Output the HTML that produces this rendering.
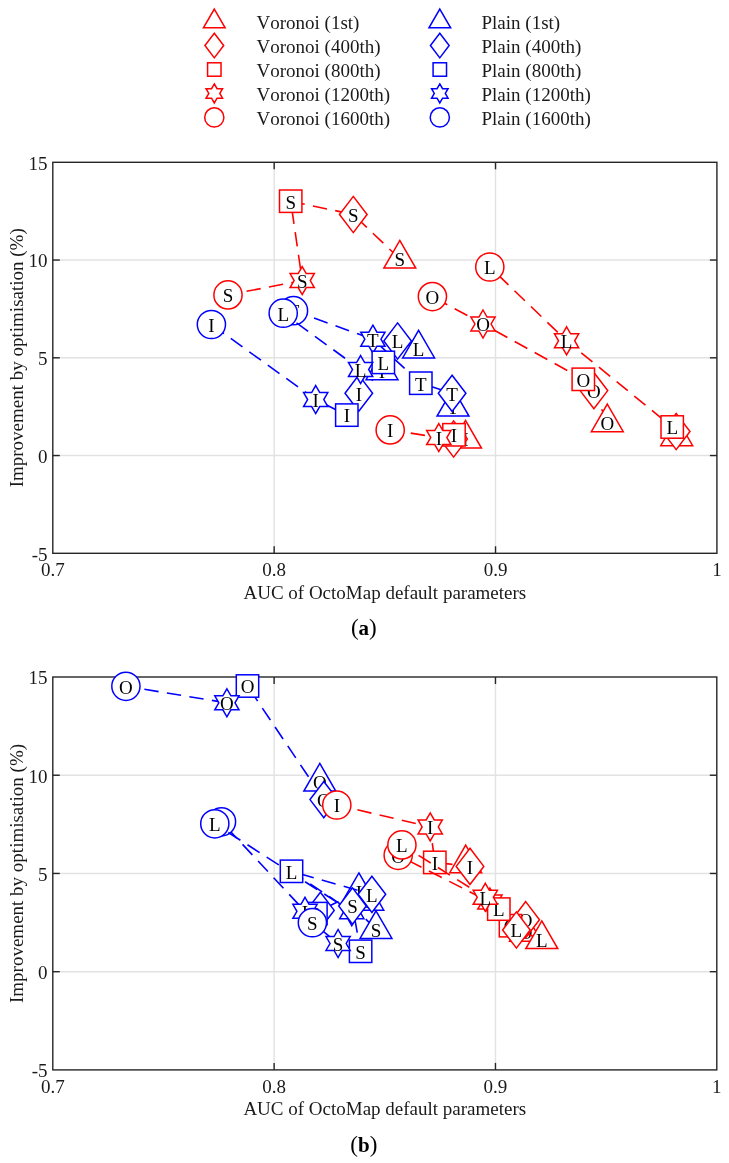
<!DOCTYPE html>
<html><head><meta charset="utf-8"><style>
html,body{margin:0;padding:0;background:#fff;}
text{font-kerning:none;}
svg{display:block;will-change:transform;}
.t{font-family:"Liberation Serif",serif;font-size:19px;fill:#000;}
.a{font-family:"Liberation Serif",serif;font-size:19px;fill:#1a1a1a;}
.c{font-family:"Liberation Serif",serif;font-size:23px;fill:#000;}
</style></head><body>
<svg width="729" height="1163" viewBox="0 0 729 1163">
<rect width="729" height="1163" fill="#fff"/>
<polygon points="214.30,9.08 225.15,27.86 203.45,27.86" fill="none" stroke="#ff0000" stroke-width="1.5" stroke-linejoin="miter" stroke-miterlimit="10"/>
<text x="256.5" y="28.70" class="a">Voronoi (1st)</text>
<polygon points="439.80,9.08 450.65,27.86 428.95,27.86" fill="none" stroke="#0000ff" stroke-width="1.5" stroke-linejoin="miter" stroke-miterlimit="10"/>
<text x="481.5" y="28.70" class="a">Plain (1st)</text>
<polygon points="214.30,33.24 223.68,45.55 214.30,57.86 204.92,45.55" fill="none" stroke="#ff0000" stroke-width="1.5" stroke-linejoin="miter" stroke-miterlimit="10"/>
<text x="256.5" y="52.65" class="a">Voronoi (400th)</text>
<polygon points="439.80,33.24 449.18,45.55 439.80,57.86 430.42,45.55" fill="none" stroke="#0000ff" stroke-width="1.5" stroke-linejoin="miter" stroke-miterlimit="10"/>
<text x="481.5" y="52.65" class="a">Plain (400th)</text>
<rect x="207.58" y="62.78" width="13.44" height="13.44" fill="none" stroke="#ff0000" stroke-width="1.5"/>
<text x="256.5" y="76.60" class="a">Voronoi (800th)</text>
<rect x="433.08" y="62.78" width="13.44" height="13.44" fill="none" stroke="#0000ff" stroke-width="1.5"/>
<text x="481.5" y="76.60" class="a">Plain (800th)</text>
<polygon points="214.30,83.93 217.05,88.69 222.54,88.69 219.80,93.45 222.54,98.21 217.05,98.21 214.30,102.97 211.55,98.21 206.06,98.21 208.80,93.45 206.06,88.69 211.55,88.69" fill="none" stroke="#ff0000" stroke-width="1.5" stroke-linejoin="miter" stroke-miterlimit="10"/>
<text x="256.5" y="100.55" class="a">Voronoi (1200th)</text>
<polygon points="439.80,83.93 442.55,88.69 448.04,88.69 445.30,93.45 448.04,98.21 442.55,98.21 439.80,102.97 437.05,98.21 431.56,98.21 434.30,93.45 431.56,88.69 437.05,88.69" fill="none" stroke="#0000ff" stroke-width="1.5" stroke-linejoin="miter" stroke-miterlimit="10"/>
<text x="481.5" y="100.55" class="a">Plain (1200th)</text>
<circle cx="214.30" cy="117.40" r="9.59" fill="none" stroke="#ff0000" stroke-width="1.5"/>
<text x="256.5" y="124.50" class="a">Voronoi (1600th)</text>
<circle cx="439.80" cy="117.40" r="9.59" fill="none" stroke="#0000ff" stroke-width="1.5"/>
<text x="481.5" y="124.50" class="a">Plain (1600th)</text>
<line x1="274.17" y1="162.3" x2="274.17" y2="553.3" stroke="#e2e2e2" stroke-width="1.4"/>
<line x1="495.53" y1="162.3" x2="495.53" y2="553.3" stroke="#e2e2e2" stroke-width="1.4"/>
<line x1="52.8" y1="455.55" x2="716.9" y2="455.55" stroke="#e2e2e2" stroke-width="1.4"/>
<line x1="52.8" y1="357.80" x2="716.9" y2="357.80" stroke="#e2e2e2" stroke-width="1.4"/>
<line x1="52.8" y1="260.05" x2="716.9" y2="260.05" stroke="#e2e2e2" stroke-width="1.4"/>
<line x1="274.17" y1="553.3" x2="274.17" y2="546.3" stroke="#262626" stroke-width="1.4"/>
<line x1="274.17" y1="162.3" x2="274.17" y2="169.3" stroke="#262626" stroke-width="1.4"/>
<line x1="495.53" y1="553.3" x2="495.53" y2="546.3" stroke="#262626" stroke-width="1.4"/>
<line x1="495.53" y1="162.3" x2="495.53" y2="169.3" stroke="#262626" stroke-width="1.4"/>
<line x1="52.8" y1="455.55" x2="59.8" y2="455.55" stroke="#262626" stroke-width="1.4"/>
<line x1="716.9" y1="455.55" x2="709.9" y2="455.55" stroke="#262626" stroke-width="1.4"/>
<line x1="52.8" y1="357.80" x2="59.8" y2="357.80" stroke="#262626" stroke-width="1.4"/>
<line x1="716.9" y1="357.80" x2="709.9" y2="357.80" stroke="#262626" stroke-width="1.4"/>
<line x1="52.8" y1="260.05" x2="59.8" y2="260.05" stroke="#262626" stroke-width="1.4"/>
<line x1="716.9" y1="260.05" x2="709.9" y2="260.05" stroke="#262626" stroke-width="1.4"/>
<rect x="52.8" y="162.3" width="664.10" height="391.00" fill="none" stroke="#262626" stroke-width="1.4"/>
<text x="52.80" y="576.30" text-anchor="middle" class="a">0.7</text>
<text x="274.17" y="576.30" text-anchor="middle" class="a">0.8</text>
<text x="495.53" y="576.30" text-anchor="middle" class="a">0.9</text>
<text x="716.90" y="576.30" text-anchor="middle" class="a">1</text>
<text x="47.5" y="560.60" text-anchor="end" class="a">-5</text>
<text x="47.5" y="462.85" text-anchor="end" class="a">0</text>
<text x="47.5" y="365.10" text-anchor="end" class="a">5</text>
<text x="47.5" y="267.35" text-anchor="end" class="a">10</text>
<text x="47.5" y="169.60" text-anchor="end" class="a">15</text>
<text x="384.85" y="598.70" text-anchor="middle" class="a">AUC of OctoMap default parameters</text>
<text transform="translate(22.6 357.80) rotate(-90)" x="0" y="0" text-anchor="middle" class="a">Improvement by optimisation (%)</text>
<polyline points="382.00,370.50 358.80,393.20 346.80,415.10 315.70,399.60 211.40,324.50" fill="none" stroke="#0000ff" stroke-width="1.6" stroke-dasharray="14.4 8.4" stroke-dashoffset="0.0"/>
<polygon points="382.00,352.08 397.95,379.71 366.05,379.71" fill="#fff" stroke="#0000ff" stroke-width="1.5" stroke-linejoin="miter" stroke-miterlimit="10"/>
<text x="382.00" y="377.80" text-anchor="middle" class="t">I</text>
<polygon points="358.80,375.10 372.60,393.20 358.80,411.30 345.00,393.20" fill="#fff" stroke="#0000ff" stroke-width="1.5" stroke-linejoin="miter" stroke-miterlimit="10"/>
<text x="358.80" y="400.50" text-anchor="middle" class="t">I</text>
<rect x="335.60" y="403.90" width="22.40" height="22.40" fill="#fff" stroke="#0000ff" stroke-width="1.5"/>
<text x="346.80" y="422.40" text-anchor="middle" class="t">I</text>
<polygon points="315.70,385.60 319.74,392.60 327.82,392.60 323.78,399.60 327.82,406.60 319.74,406.60 315.70,413.60 311.66,406.60 303.58,406.60 307.62,399.60 303.58,392.60 311.66,392.60" fill="#fff" stroke="#0000ff" stroke-width="1.5" stroke-linejoin="miter" stroke-miterlimit="10"/>
<text x="315.70" y="406.90" text-anchor="middle" class="t">I</text>
<circle cx="211.40" cy="324.50" r="14.10" fill="#fff" stroke="#0000ff" stroke-width="1.5"/>
<text x="211.40" y="331.80" text-anchor="middle" class="t">I</text>
<polyline points="453.00,406.80 452.10,393.30 420.80,383.20 372.90,339.20 293.50,310.70" fill="none" stroke="#0000ff" stroke-width="1.6" stroke-dasharray="14.4 8.4" stroke-dashoffset="0.0"/>
<polygon points="453.00,388.38 468.95,416.01 437.05,416.01" fill="#fff" stroke="#0000ff" stroke-width="1.5" stroke-linejoin="miter" stroke-miterlimit="10"/>
<text x="453.00" y="414.10" text-anchor="middle" class="t">T</text>
<polygon points="452.10,375.20 465.90,393.30 452.10,411.40 438.30,393.30" fill="#fff" stroke="#0000ff" stroke-width="1.5" stroke-linejoin="miter" stroke-miterlimit="10"/>
<text x="452.10" y="400.60" text-anchor="middle" class="t">T</text>
<rect x="409.60" y="372.00" width="22.40" height="22.40" fill="#fff" stroke="#0000ff" stroke-width="1.5"/>
<text x="420.80" y="390.50" text-anchor="middle" class="t">T</text>
<polygon points="372.90,325.20 376.94,332.20 385.02,332.20 380.98,339.20 385.02,346.20 376.94,346.20 372.90,353.20 368.86,346.20 360.78,346.20 364.82,339.20 360.78,332.20 368.86,332.20" fill="#fff" stroke="#0000ff" stroke-width="1.5" stroke-linejoin="miter" stroke-miterlimit="10"/>
<text x="372.90" y="346.50" text-anchor="middle" class="t">T</text>
<circle cx="293.50" cy="310.70" r="14.10" fill="#fff" stroke="#0000ff" stroke-width="1.5"/>
<text x="293.50" y="318.00" text-anchor="middle" class="t">T</text>
<polyline points="418.60,348.70 397.60,341.00 383.30,362.40 360.60,369.60 283.20,313.20" fill="none" stroke="#0000ff" stroke-width="1.6" stroke-dasharray="14.4 8.4" stroke-dashoffset="0.0"/>
<polygon points="418.60,330.28 434.55,357.91 402.65,357.91" fill="#fff" stroke="#0000ff" stroke-width="1.5" stroke-linejoin="miter" stroke-miterlimit="10"/>
<text x="418.60" y="356.00" text-anchor="middle" class="t">L</text>
<polygon points="397.60,322.90 411.40,341.00 397.60,359.10 383.80,341.00" fill="#fff" stroke="#0000ff" stroke-width="1.5" stroke-linejoin="miter" stroke-miterlimit="10"/>
<text x="397.60" y="348.30" text-anchor="middle" class="t">L</text>
<rect x="372.10" y="351.20" width="22.40" height="22.40" fill="#fff" stroke="#0000ff" stroke-width="1.5"/>
<text x="383.30" y="369.70" text-anchor="middle" class="t">L</text>
<polygon points="360.60,355.60 364.64,362.60 372.72,362.60 368.68,369.60 372.72,376.60 364.64,376.60 360.60,383.60 356.56,376.60 348.48,376.60 352.52,369.60 348.48,362.60 356.56,362.60" fill="#fff" stroke="#0000ff" stroke-width="1.5" stroke-linejoin="miter" stroke-miterlimit="10"/>
<text x="360.60" y="376.90" text-anchor="middle" class="t">L</text>
<circle cx="283.20" cy="313.20" r="14.10" fill="#fff" stroke="#0000ff" stroke-width="1.5"/>
<text x="283.20" y="320.50" text-anchor="middle" class="t">L</text>
<polyline points="399.80,258.90 353.30,214.50 290.70,201.20 302.20,280.60 228.00,294.90" fill="none" stroke="#ff0000" stroke-width="1.6" stroke-dasharray="14.4 8.4" stroke-dashoffset="0.0"/>
<polygon points="399.80,240.48 415.75,268.11 383.85,268.11" fill="#fff" stroke="#ff0000" stroke-width="1.5" stroke-linejoin="miter" stroke-miterlimit="10"/>
<text x="399.80" y="266.20" text-anchor="middle" class="t">S</text>
<polygon points="353.30,196.40 367.10,214.50 353.30,232.60 339.50,214.50" fill="#fff" stroke="#ff0000" stroke-width="1.5" stroke-linejoin="miter" stroke-miterlimit="10"/>
<text x="353.30" y="221.80" text-anchor="middle" class="t">S</text>
<rect x="279.50" y="190.00" width="22.40" height="22.40" fill="#fff" stroke="#ff0000" stroke-width="1.5"/>
<text x="290.70" y="208.50" text-anchor="middle" class="t">S</text>
<polygon points="302.20,266.60 306.24,273.60 314.32,273.60 310.28,280.60 314.32,287.60 306.24,287.60 302.20,294.60 298.16,287.60 290.08,287.60 294.12,280.60 290.08,273.60 298.16,273.60" fill="#fff" stroke="#ff0000" stroke-width="1.5" stroke-linejoin="miter" stroke-miterlimit="10"/>
<text x="302.20" y="287.90" text-anchor="middle" class="t">S</text>
<circle cx="228.00" cy="294.90" r="14.10" fill="#fff" stroke="#ff0000" stroke-width="1.5"/>
<text x="228.00" y="302.20" text-anchor="middle" class="t">S</text>
<polyline points="676.70,436.50 676.20,431.50 672.20,427.00 566.60,340.80 489.80,267.00" fill="none" stroke="#ff0000" stroke-width="1.6" stroke-dasharray="14.4 8.4" stroke-dashoffset="0.0"/>
<polygon points="676.70,418.08 692.65,445.71 660.75,445.71" fill="#fff" stroke="#ff0000" stroke-width="1.5" stroke-linejoin="miter" stroke-miterlimit="10"/>
<text x="676.70" y="443.80" text-anchor="middle" class="t">L</text>
<polygon points="676.20,413.40 690.00,431.50 676.20,449.60 662.40,431.50" fill="#fff" stroke="#ff0000" stroke-width="1.5" stroke-linejoin="miter" stroke-miterlimit="10"/>
<text x="676.20" y="438.80" text-anchor="middle" class="t">L</text>
<rect x="661.00" y="415.80" width="22.40" height="22.40" fill="#fff" stroke="#ff0000" stroke-width="1.5"/>
<text x="672.20" y="434.30" text-anchor="middle" class="t">L</text>
<polygon points="566.60,326.80 570.64,333.80 578.72,333.80 574.68,340.80 578.72,347.80 570.64,347.80 566.60,354.80 562.56,347.80 554.48,347.80 558.52,340.80 554.48,333.80 562.56,333.80" fill="#fff" stroke="#ff0000" stroke-width="1.5" stroke-linejoin="miter" stroke-miterlimit="10"/>
<text x="566.60" y="348.10" text-anchor="middle" class="t">L</text>
<circle cx="489.80" cy="267.00" r="14.10" fill="#fff" stroke="#ff0000" stroke-width="1.5"/>
<text x="489.80" y="274.30" text-anchor="middle" class="t">L</text>
<polyline points="607.30,422.50 593.90,390.60 583.30,379.30 483.00,324.00 432.40,296.60" fill="none" stroke="#ff0000" stroke-width="1.6" stroke-dasharray="14.4 8.4" stroke-dashoffset="0.0"/>
<polygon points="607.30,404.08 623.25,431.71 591.35,431.71" fill="#fff" stroke="#ff0000" stroke-width="1.5" stroke-linejoin="miter" stroke-miterlimit="10"/>
<text x="607.30" y="429.80" text-anchor="middle" class="t">O</text>
<polygon points="593.90,372.50 607.70,390.60 593.90,408.70 580.10,390.60" fill="#fff" stroke="#ff0000" stroke-width="1.5" stroke-linejoin="miter" stroke-miterlimit="10"/>
<text x="593.90" y="397.90" text-anchor="middle" class="t">O</text>
<rect x="572.10" y="368.10" width="22.40" height="22.40" fill="#fff" stroke="#ff0000" stroke-width="1.5"/>
<text x="583.30" y="386.60" text-anchor="middle" class="t">O</text>
<polygon points="483.00,310.00 487.04,317.00 495.12,317.00 491.08,324.00 495.12,331.00 487.04,331.00 483.00,338.00 478.96,331.00 470.88,331.00 474.92,324.00 470.88,317.00 478.96,317.00" fill="#fff" stroke="#ff0000" stroke-width="1.5" stroke-linejoin="miter" stroke-miterlimit="10"/>
<text x="483.00" y="331.30" text-anchor="middle" class="t">O</text>
<circle cx="432.40" cy="296.60" r="14.10" fill="#fff" stroke="#ff0000" stroke-width="1.5"/>
<text x="432.40" y="303.90" text-anchor="middle" class="t">O</text>
<polyline points="465.50,438.90 453.60,439.00 454.00,434.80 438.80,437.60 390.20,429.90" fill="none" stroke="#ff0000" stroke-width="1.6" stroke-dasharray="14.4 8.4" stroke-dashoffset="0.0"/>
<polygon points="465.50,420.48 481.45,448.11 449.55,448.11" fill="#fff" stroke="#ff0000" stroke-width="1.5" stroke-linejoin="miter" stroke-miterlimit="10"/>
<text x="465.50" y="446.20" text-anchor="middle" class="t">I</text>
<polygon points="453.60,420.90 467.40,439.00 453.60,457.10 439.80,439.00" fill="#fff" stroke="#ff0000" stroke-width="1.5" stroke-linejoin="miter" stroke-miterlimit="10"/>
<text x="453.60" y="446.30" text-anchor="middle" class="t">I</text>
<rect x="442.80" y="423.60" width="22.40" height="22.40" fill="#fff" stroke="#ff0000" stroke-width="1.5"/>
<text x="454.00" y="442.10" text-anchor="middle" class="t">I</text>
<polygon points="438.80,423.60 442.84,430.60 450.92,430.60 446.88,437.60 450.92,444.60 442.84,444.60 438.80,451.60 434.76,444.60 426.68,444.60 430.72,437.60 426.68,430.60 434.76,430.60" fill="#fff" stroke="#ff0000" stroke-width="1.5" stroke-linejoin="miter" stroke-miterlimit="10"/>
<text x="438.80" y="444.90" text-anchor="middle" class="t">I</text>
<circle cx="390.20" cy="429.90" r="14.10" fill="#fff" stroke="#ff0000" stroke-width="1.5"/>
<text x="390.20" y="437.20" text-anchor="middle" class="t">I</text>
<text x="363.8" y="634.8" text-anchor="middle" class="c">(<tspan font-weight="bold" font-size="21">a</tspan>)</text>
<line x1="274.13" y1="677.0" x2="274.13" y2="1069.9" stroke="#e2e2e2" stroke-width="1.4"/>
<line x1="495.47" y1="677.0" x2="495.47" y2="1069.9" stroke="#e2e2e2" stroke-width="1.4"/>
<line x1="52.8" y1="971.68" x2="716.8" y2="971.68" stroke="#e2e2e2" stroke-width="1.4"/>
<line x1="52.8" y1="873.45" x2="716.8" y2="873.45" stroke="#e2e2e2" stroke-width="1.4"/>
<line x1="52.8" y1="775.23" x2="716.8" y2="775.23" stroke="#e2e2e2" stroke-width="1.4"/>
<line x1="274.13" y1="1069.9" x2="274.13" y2="1062.9" stroke="#262626" stroke-width="1.4"/>
<line x1="274.13" y1="677.0" x2="274.13" y2="684.0" stroke="#262626" stroke-width="1.4"/>
<line x1="495.47" y1="1069.9" x2="495.47" y2="1062.9" stroke="#262626" stroke-width="1.4"/>
<line x1="495.47" y1="677.0" x2="495.47" y2="684.0" stroke="#262626" stroke-width="1.4"/>
<line x1="52.8" y1="971.68" x2="59.8" y2="971.68" stroke="#262626" stroke-width="1.4"/>
<line x1="716.8" y1="971.68" x2="709.8" y2="971.68" stroke="#262626" stroke-width="1.4"/>
<line x1="52.8" y1="873.45" x2="59.8" y2="873.45" stroke="#262626" stroke-width="1.4"/>
<line x1="716.8" y1="873.45" x2="709.8" y2="873.45" stroke="#262626" stroke-width="1.4"/>
<line x1="52.8" y1="775.23" x2="59.8" y2="775.23" stroke="#262626" stroke-width="1.4"/>
<line x1="716.8" y1="775.23" x2="709.8" y2="775.23" stroke="#262626" stroke-width="1.4"/>
<rect x="52.8" y="677.0" width="664.00" height="392.90" fill="none" stroke="#262626" stroke-width="1.4"/>
<text x="52.80" y="1092.90" text-anchor="middle" class="a">0.7</text>
<text x="274.13" y="1092.90" text-anchor="middle" class="a">0.8</text>
<text x="495.47" y="1092.90" text-anchor="middle" class="a">0.9</text>
<text x="716.80" y="1092.90" text-anchor="middle" class="a">1</text>
<text x="47.5" y="1077.20" text-anchor="end" class="a">-5</text>
<text x="47.5" y="978.98" text-anchor="end" class="a">0</text>
<text x="47.5" y="880.75" text-anchor="end" class="a">5</text>
<text x="47.5" y="782.52" text-anchor="end" class="a">10</text>
<text x="47.5" y="684.30" text-anchor="end" class="a">15</text>
<text x="384.80" y="1115.30" text-anchor="middle" class="a">AUC of OctoMap default parameters</text>
<text transform="translate(22.6 873.45) rotate(-90)" x="0" y="0" text-anchor="middle" class="a">Improvement by optimisation (%)</text>
<polyline points="319.80,781.90 323.80,799.60 247.50,686.00 226.90,702.80 125.90,686.30" fill="none" stroke="#0000ff" stroke-width="1.6" stroke-dasharray="14.4 8.4" stroke-dashoffset="0.0"/>
<polygon points="319.80,763.48 335.75,791.11 303.85,791.11" fill="#fff" stroke="#0000ff" stroke-width="1.5" stroke-linejoin="miter" stroke-miterlimit="10"/>
<text x="319.80" y="789.20" text-anchor="middle" class="t">O</text>
<polygon points="323.80,781.50 337.60,799.60 323.80,817.70 310.00,799.60" fill="#fff" stroke="#0000ff" stroke-width="1.5" stroke-linejoin="miter" stroke-miterlimit="10"/>
<text x="323.80" y="806.90" text-anchor="middle" class="t">O</text>
<rect x="236.30" y="674.80" width="22.40" height="22.40" fill="#fff" stroke="#0000ff" stroke-width="1.5"/>
<text x="247.50" y="693.30" text-anchor="middle" class="t">O</text>
<polygon points="226.90,688.80 230.94,695.80 239.02,695.80 234.98,702.80 239.02,709.80 230.94,709.80 226.90,716.80 222.86,709.80 214.78,709.80 218.82,702.80 214.78,695.80 222.86,695.80" fill="#fff" stroke="#0000ff" stroke-width="1.5" stroke-linejoin="miter" stroke-miterlimit="10"/>
<text x="226.90" y="710.10" text-anchor="middle" class="t">O</text>
<circle cx="125.90" cy="686.30" r="14.10" fill="#fff" stroke="#0000ff" stroke-width="1.5"/>
<text x="125.90" y="693.60" text-anchor="middle" class="t">O</text>
<polyline points="358.90,891.30 320.40,910.40 315.90,913.60 305.00,911.30 221.50,821.80" fill="none" stroke="#0000ff" stroke-width="1.6" stroke-dasharray="14.4 8.4" stroke-dashoffset="0.0"/>
<polygon points="358.90,872.88 374.85,900.51 342.95,900.51" fill="#fff" stroke="#0000ff" stroke-width="1.5" stroke-linejoin="miter" stroke-miterlimit="10"/>
<text x="358.90" y="898.60" text-anchor="middle" class="t">I</text>
<polygon points="320.40,892.30 334.20,910.40 320.40,928.50 306.60,910.40" fill="#fff" stroke="#0000ff" stroke-width="1.5" stroke-linejoin="miter" stroke-miterlimit="10"/>
<text x="320.40" y="917.70" text-anchor="middle" class="t">I</text>
<rect x="304.70" y="902.40" width="22.40" height="22.40" fill="#fff" stroke="#0000ff" stroke-width="1.5"/>
<text x="315.90" y="920.90" text-anchor="middle" class="t">I</text>
<polygon points="305.00,897.30 309.04,904.30 317.12,904.30 313.08,911.30 317.12,918.30 309.04,918.30 305.00,925.30 300.96,918.30 292.88,918.30 296.92,911.30 292.88,904.30 300.96,904.30" fill="#fff" stroke="#0000ff" stroke-width="1.5" stroke-linejoin="miter" stroke-miterlimit="10"/>
<text x="305.00" y="918.60" text-anchor="middle" class="t">I</text>
<circle cx="221.50" cy="821.80" r="14.10" fill="#fff" stroke="#0000ff" stroke-width="1.5"/>
<text x="221.50" y="829.10" text-anchor="middle" class="t">I</text>
<polyline points="367.80,901.00 371.90,894.30 291.50,871.30 351.80,911.70 214.80,823.80" fill="none" stroke="#0000ff" stroke-width="1.6" stroke-dasharray="14.4 8.4" stroke-dashoffset="0.0"/>
<polygon points="367.80,882.58 383.75,910.21 351.85,910.21" fill="#fff" stroke="#0000ff" stroke-width="1.5" stroke-linejoin="miter" stroke-miterlimit="10"/>
<text x="367.80" y="908.30" text-anchor="middle" class="t">L</text>
<polygon points="371.90,876.20 385.70,894.30 371.90,912.40 358.10,894.30" fill="#fff" stroke="#0000ff" stroke-width="1.5" stroke-linejoin="miter" stroke-miterlimit="10"/>
<text x="371.90" y="901.60" text-anchor="middle" class="t">L</text>
<rect x="280.30" y="860.10" width="22.40" height="22.40" fill="#fff" stroke="#0000ff" stroke-width="1.5"/>
<text x="291.50" y="878.60" text-anchor="middle" class="t">L</text>
<polygon points="351.80,897.70 355.84,904.70 363.92,904.70 359.88,911.70 363.92,918.70 355.84,918.70 351.80,925.70 347.76,918.70 339.68,918.70 343.72,911.70 339.68,904.70 347.76,904.70" fill="#fff" stroke="#0000ff" stroke-width="1.5" stroke-linejoin="miter" stroke-miterlimit="10"/>
<text x="351.80" y="919.00" text-anchor="middle" class="t">L</text>
<circle cx="214.80" cy="823.80" r="14.10" fill="#fff" stroke="#0000ff" stroke-width="1.5"/>
<text x="214.80" y="831.10" text-anchor="middle" class="t">L</text>
<polyline points="376.00,929.20 352.50,906.00 360.60,951.30 338.10,943.50 312.40,922.70" fill="none" stroke="#0000ff" stroke-width="1.6" stroke-dasharray="14.4 8.4" stroke-dashoffset="0.0"/>
<polygon points="376.00,910.78 391.95,938.41 360.05,938.41" fill="#fff" stroke="#0000ff" stroke-width="1.5" stroke-linejoin="miter" stroke-miterlimit="10"/>
<text x="376.00" y="936.50" text-anchor="middle" class="t">S</text>
<polygon points="352.50,887.90 366.30,906.00 352.50,924.10 338.70,906.00" fill="#fff" stroke="#0000ff" stroke-width="1.5" stroke-linejoin="miter" stroke-miterlimit="10"/>
<text x="352.50" y="913.30" text-anchor="middle" class="t">S</text>
<rect x="349.40" y="940.10" width="22.40" height="22.40" fill="#fff" stroke="#0000ff" stroke-width="1.5"/>
<text x="360.60" y="958.60" text-anchor="middle" class="t">S</text>
<polygon points="338.10,929.50 342.14,936.50 350.22,936.50 346.18,943.50 350.22,950.50 342.14,950.50 338.10,957.50 334.06,950.50 325.98,950.50 330.02,943.50 325.98,936.50 334.06,936.50" fill="#fff" stroke="#0000ff" stroke-width="1.5" stroke-linejoin="miter" stroke-miterlimit="10"/>
<text x="338.10" y="950.80" text-anchor="middle" class="t">S</text>
<circle cx="312.40" cy="922.70" r="14.10" fill="#fff" stroke="#0000ff" stroke-width="1.5"/>
<text x="312.40" y="930.00" text-anchor="middle" class="t">S</text>
<polyline points="465.70,863.50 470.00,866.40 434.80,862.40 430.20,826.90 336.80,805.00" fill="none" stroke="#ff0000" stroke-width="1.6" stroke-dasharray="14.4 8.4" stroke-dashoffset="0.0"/>
<polygon points="465.70,845.08 481.65,872.71 449.75,872.71" fill="#fff" stroke="#ff0000" stroke-width="1.5" stroke-linejoin="miter" stroke-miterlimit="10"/>
<text x="465.70" y="870.80" text-anchor="middle" class="t">I</text>
<polygon points="470.00,848.30 483.80,866.40 470.00,884.50 456.20,866.40" fill="#fff" stroke="#ff0000" stroke-width="1.5" stroke-linejoin="miter" stroke-miterlimit="10"/>
<text x="470.00" y="873.70" text-anchor="middle" class="t">I</text>
<rect x="423.60" y="851.20" width="22.40" height="22.40" fill="#fff" stroke="#ff0000" stroke-width="1.5"/>
<text x="434.80" y="869.70" text-anchor="middle" class="t">I</text>
<polygon points="430.20,812.90 434.24,819.90 442.32,819.90 438.28,826.90 442.32,833.90 434.24,833.90 430.20,840.90 426.16,833.90 418.08,833.90 422.12,826.90 418.08,819.90 426.16,819.90" fill="#fff" stroke="#ff0000" stroke-width="1.5" stroke-linejoin="miter" stroke-miterlimit="10"/>
<text x="430.20" y="834.20" text-anchor="middle" class="t">I</text>
<circle cx="336.80" cy="805.00" r="14.10" fill="#fff" stroke="#ff0000" stroke-width="1.5"/>
<text x="336.80" y="812.30" text-anchor="middle" class="t">I</text>
<polyline points="525.50,932.00 525.70,919.70 510.50,925.70 489.90,902.10 398.20,855.30" fill="none" stroke="#ff0000" stroke-width="1.6" stroke-dasharray="14.4 8.4" stroke-dashoffset="0.0"/>
<polygon points="525.50,913.58 541.45,941.21 509.55,941.21" fill="#fff" stroke="#ff0000" stroke-width="1.5" stroke-linejoin="miter" stroke-miterlimit="10"/>
<text x="525.50" y="939.30" text-anchor="middle" class="t">O</text>
<polygon points="525.70,901.60 539.50,919.70 525.70,937.80 511.90,919.70" fill="#fff" stroke="#ff0000" stroke-width="1.5" stroke-linejoin="miter" stroke-miterlimit="10"/>
<text x="525.70" y="927.00" text-anchor="middle" class="t">O</text>
<rect x="499.30" y="914.50" width="22.40" height="22.40" fill="#fff" stroke="#ff0000" stroke-width="1.5"/>
<text x="510.50" y="933.00" text-anchor="middle" class="t">O</text>
<polygon points="489.90,888.10 493.94,895.10 502.02,895.10 497.98,902.10 502.02,909.10 493.94,909.10 489.90,916.10 485.86,909.10 477.78,909.10 481.82,902.10 477.78,895.10 485.86,895.10" fill="#fff" stroke="#ff0000" stroke-width="1.5" stroke-linejoin="miter" stroke-miterlimit="10"/>
<text x="489.90" y="909.40" text-anchor="middle" class="t">O</text>
<circle cx="398.20" cy="855.30" r="14.10" fill="#fff" stroke="#ff0000" stroke-width="1.5"/>
<text x="398.20" y="862.60" text-anchor="middle" class="t">O</text>
<polyline points="541.80,939.40 516.40,930.00 498.80,909.10 485.30,897.30 401.90,844.90" fill="none" stroke="#ff0000" stroke-width="1.6" stroke-dasharray="14.4 8.4" stroke-dashoffset="0.0"/>
<polygon points="541.80,920.98 557.75,948.61 525.85,948.61" fill="#fff" stroke="#ff0000" stroke-width="1.5" stroke-linejoin="miter" stroke-miterlimit="10"/>
<text x="541.80" y="946.70" text-anchor="middle" class="t">L</text>
<polygon points="516.40,911.90 530.20,930.00 516.40,948.10 502.60,930.00" fill="#fff" stroke="#ff0000" stroke-width="1.5" stroke-linejoin="miter" stroke-miterlimit="10"/>
<text x="516.40" y="937.30" text-anchor="middle" class="t">L</text>
<rect x="487.60" y="897.90" width="22.40" height="22.40" fill="#fff" stroke="#ff0000" stroke-width="1.5"/>
<text x="498.80" y="916.40" text-anchor="middle" class="t">L</text>
<polygon points="485.30,883.30 489.34,890.30 497.42,890.30 493.38,897.30 497.42,904.30 489.34,904.30 485.30,911.30 481.26,904.30 473.18,904.30 477.22,897.30 473.18,890.30 481.26,890.30" fill="#fff" stroke="#ff0000" stroke-width="1.5" stroke-linejoin="miter" stroke-miterlimit="10"/>
<text x="485.30" y="904.60" text-anchor="middle" class="t">L</text>
<circle cx="401.90" cy="844.90" r="14.10" fill="#fff" stroke="#ff0000" stroke-width="1.5"/>
<text x="401.90" y="852.20" text-anchor="middle" class="t">L</text>
<text x="363.8" y="1151.5" text-anchor="middle" class="c">(<tspan font-weight="bold" font-size="21">b</tspan>)</text>
</svg>
</body></html>
